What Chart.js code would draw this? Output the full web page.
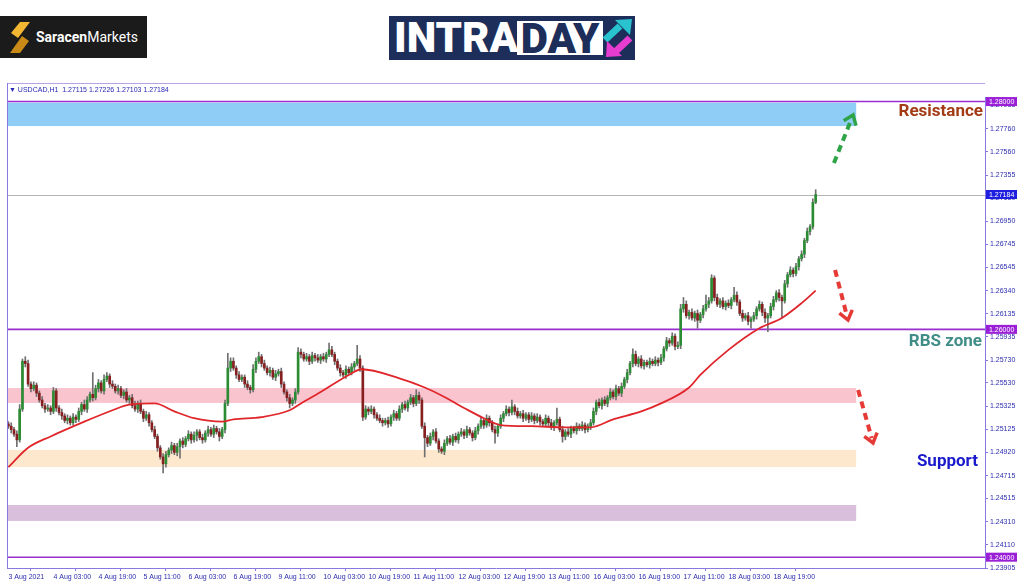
<!DOCTYPE html>
<html>
<head>
<meta charset="utf-8">
<title>USDCAD H1</title>
<script src="https://cdn.jsdelivr.net/npm/chart.js@4.4.1/dist/chart.umd.min.js"></script>
<style>
  html, body { margin: 0; padding: 0; background: #fff; }
  body { width: 1024px; height: 587px; position: relative; overflow: hidden; font-family: "Liberation Sans", Arial, sans-serif; }
  #saracen { position: absolute; left: 0; top: 16px; width: 147px; height: 42px; background: #1b1b1b; }
  #saracen svg { position: absolute; left: 8px; top: 6px; }
  #saracen .name { position: absolute; left: 36px; top: 12px; font: 14px/18px Roboto, sans-serif; color: #fff; white-space: nowrap; }
  #saracen b { font-weight: 700; }
  #intraday { position: absolute; left: 389px; top: 16px; width: 246px; height: 44px; background: #1c2e59; }
  #intraday .intra { position: absolute; left: 5px; top: 3px; font: 900 42px/38px Roboto, sans-serif; color: #fff; }
  #intraday .day { position: absolute; left: 128px; top: 5px; width: 86px; height: 34px; background: #fff; color: #1c2e59; font: 900 42px/36px Roboto, sans-serif; text-align: center; }
  #intraday svg { position: absolute; left: 212px; top: 0; }
  #hdr { position: absolute; left: 9px; top: 85px; font-size: 7px; line-height: 9px; color: #2929b5; white-space: nowrap; z-index: 2; }
  #wrap { position: absolute; left: 0; top: 83px; width: 1024px; height: 504px; }
</style>
</head>
<body>
<div id="saracen">
  <svg width="24" height="31" viewBox="0 0 24 31">
    <polygon points="12,0 22,0 10,16 3,11" fill="#f2b632"/>
    <polygon points="14,14 21,19 12,31 2,31" fill="#c98a17"/>
  </svg>
  <div class="name"><b>Saracen</b>Markets</div>
</div>
<div id="intraday">
  <div class="intra">INTRA</div>
  <div class="day">DAY</div>
  <svg width="34" height="44" viewBox="0 0 34 44">
    <line x1="4" y1="24" x2="19" y2="10" stroke="#29c3cf" stroke-width="7"/>
    <polygon points="31,3 14,4 29,19" fill="#29c3cf"/>
    <line x1="29" y1="22" x2="14" y2="36" stroke="#e63ccf" stroke-width="7"/>
    <polygon points="5,41 6,25 21,40" fill="#e63ccf"/>
  </svg>
</div>
<div id="hdr">&#9660; USDCAD,H1&nbsp; 1.27115 1.27226 1.27103 1.27184</div>
<div id="wrap"><canvas id="c" width="1024" height="504"></canvas></div>
<script>
// hourly closes, 3 Aug 11:00 .. 19 Aug
const closes = [
1.2515,1.2512,1.2508,1.2503,1.2530,1.2572,1.2570,1.2552,1.2548,1.2551,1.2544,1.2538,1.2533,1.2530,1.2531,1.2528,
1.2546,1.2531,1.2527,1.2524,1.2520,1.2522,1.2518,1.2523,1.2521,1.2528,1.2534,1.2530,1.2538,1.2543,1.2540,1.2548,
1.2553,1.2546,1.2556,1.2559,1.2552,1.2550,1.2546,1.2548,1.2542,1.2545,1.2538,1.2540,1.2533,1.2530,1.2535,1.2528,
1.2522,1.2525,1.2518,1.2512,1.2506,1.2496,1.2488,1.2482,1.2490,1.2494,1.2498,1.2492,1.2497,1.2502,1.2499,1.2504,
1.2508,1.2503,1.2507,1.2510,1.2505,1.2503,1.2509,1.2512,1.2508,1.2513,1.2510,1.2506,1.2512,1.2535,1.2566,1.2572,
1.2566,1.2560,1.2556,1.2558,1.2552,1.2549,1.2547,1.2565,1.2572,1.2576,1.2570,1.2566,1.2562,1.2564,1.2558,1.2561,
1.2563,1.2552,1.2545,1.2540,1.2535,1.2538,1.2545,1.2580,1.2578,1.2574,1.2576,1.2572,1.2577,1.2575,1.2573,1.2576,
1.2574,1.2578,1.2582,1.2578,1.2572,1.2566,1.2562,1.2560,1.2565,1.2562,1.2567,1.2570,1.2574,1.2566,1.2523,1.2530,
1.2528,1.2530,1.2525,1.2522,1.2520,1.2518,1.2520,1.2517,1.2523,1.2526,1.2522,1.2530,1.2534,1.2531,1.2536,1.2540,
1.2535,1.2542,1.2538,1.2515,1.2505,1.2500,1.2506,1.2510,1.2502,1.2495,1.2493,1.2500,1.2504,1.2501,1.2506,1.2503,
1.2508,1.2510,1.2507,1.2512,1.2509,1.2505,1.2511,1.2515,1.2520,1.2516,1.2522,1.2518,1.2512,1.2509,1.2515,1.2522,
1.2526,1.2530,1.2527,1.2532,1.2528,1.2524,1.2526,1.2522,1.2525,1.2521,1.2524,1.2520,1.2523,1.2519,1.2517,1.2522,
1.2518,1.2514,1.2518,1.2521,1.2512,1.2506,1.2510,1.2508,1.2513,1.2511,1.2515,1.2513,1.2516,1.2512,1.2515,1.2518,
1.2528,1.2536,1.2533,1.2538,1.2535,1.2540,1.2545,1.2541,1.2548,1.2544,1.2550,1.2556,1.2562,1.2570,1.2578,1.2570,
1.2574,1.2568,1.2571,1.2569,1.2572,1.2570,1.2573,1.2571,1.2575,1.2583,1.2590,1.2588,1.2594,1.2585,1.2586,1.2618,
1.2622,1.2612,1.2615,1.2610,1.2614,1.2608,1.2613,1.2618,1.2622,1.2625,1.2645,1.2628,1.2622,1.2625,1.2620,1.2623,
1.2621,1.2626,1.2630,1.2624,1.2614,1.2610,1.2612,1.2607,1.2609,1.2612,1.2618,1.2622,1.2615,1.2610,1.2612,1.2620,
1.2626,1.2632,1.2628,1.2625,1.2640,1.2648,1.2652,1.2649,1.2655,1.2662,1.2666,1.2678,1.2686,1.2690,1.27115,1.27184
];
const firstOpen = 1.2517;

// wicks beyond the body, in pips
const wickUp = [
2,3,2,3,4,2,4,3,2,3,2,2,3,2,3,2,
3,2,2,3,2,3,2,3,2,3,2,4,3,2,19,3,
3,2,4,3,2,3,2,3,2,2,3,2,3,4,2,3,
2,3,2,2,3,2,2,3,3,2,3,2,3,2,3,2,
3,2,3,2,2,3,2,3,2,3,2,3,2,3,13,3,
3,2,3,2,2,3,2,4,3,4,2,3,2,3,2,3,
2,3,2,2,3,2,3,4,3,2,3,2,3,2,3,2,
3,2,6,3,2,2,3,2,3,2,3,2,12,3,2,3,
2,3,2,2,3,2,2,3,2,3,2,3,2,3,2,3,
2,5,3,2,3,2,3,2,3,2,2,3,2,3,2,3,
2,3,2,3,2,2,3,2,3,2,3,2,2,3,2,3,
2,3,2,6,2,3,2,3,2,2,3,2,3,2,2,3,
2,3,2,10,2,3,2,3,2,2,3,2,3,2,2,3,
3,2,3,2,3,2,3,2,3,2,3,2,3,2,5,3,
2,3,2,2,3,2,3,2,3,2,3,2,3,2,3,4,
6,3,2,3,2,3,2,3,8,3,3,2,3,2,3,2,
3,2,7,3,2,3,2,3,2,3,2,3,2,3,2,3,
3,2,3,2,3,2,3,2,3,2,3,2,3,2,3,4.2
];
const wickDn = [
2,3,2,6,2,2,3,2,3,2,3,2,2,3,2,3,
2,3,2,3,2,3,2,2,3,2,3,2,3,2,3,2,
3,2,3,2,3,2,2,3,2,3,2,3,2,2,3,2,
3,2,3,2,2,3,2,8,3,2,3,2,3,10,3,2,
2,3,2,5,2,3,2,3,2,3,2,4,2,3,2,3,
2,3,2,2,3,2,3,2,3,2,3,2,2,3,2,3,
2,3,2,3,4,2,3,2,3,2,2,3,2,3,2,3,
2,3,2,2,3,2,3,2,3,2,2,3,2,3,3,2,
3,2,3,2,2,3,2,3,2,3,2,2,3,2,3,2,
3,2,3,2,17,3,2,3,2,3,2,3,2,2,3,2,
3,2,3,2,2,3,2,3,2,3,2,3,2,9,3,2,
3,2,3,2,3,2,2,3,2,3,2,3,2,3,2,2,
3,2,3,2,2,5,3,2,3,2,3,2,2,3,2,3,
2,3,2,3,2,3,2,2,3,2,3,2,3,2,3,2,
3,2,3,2,3,2,2,3,2,3,2,3,2,3,2,3,
3,2,3,2,3,7,2,3,2,3,2,3,2,3,2,3,
2,3,2,3,2,3,2,3,6,2,3,2,3,4,12,2,
3,2,3,15,2,3,2,3,2,3,2,3,2,3,2,1.2
];

// moving average, read at bar positions
const maIdx = [0,7,15,27,37,43,52,59,66,76,80,90,100,104,111,121,125.5,139,148,154,162,169,175,186,198,207,215,225,232,242,246,256,267,275,282,287];
const maVal = [1.2479,1.2496,1.2506,1.2519,1.2529,1.2534,1.2535,1.2528,1.2522,1.2519,1.2521,1.2523,1.2529,1.2535,1.2545,1.2560,1.2565,1.2557,1.2549,1.2542,1.2531,1.2522,1.2516,1.2515,1.2514,1.2514,1.2521,1.2528,1.2535,1.2549,1.2560,1.2582,1.2601,1.2610,1.2623,1.2634];

const xTickIdx = [0,16,32,48,64,80,96,112,128,144,160,176,192,208,224,240,256,272];
const xTickLabels = ['3 Aug 2021','4 Aug 03:00','4 Aug 19:00','5 Aug 11:00','6 Aug 03:00','6 Aug 19:00','9 Aug 11:00','10 Aug 03:00','10 Aug 19:00','11 Aug 11:00','12 Aug 03:00','12 Aug 19:00','13 Aug 11:00','16 Aug 03:00','16 Aug 19:00','17 Aug 11:00','18 Aug 03:00','18 Aug 19:00'];
const yTicks = [1.27965,1.27760,1.27560,1.27355,1.27150,1.26950,1.26745,1.26545,1.26340,1.26135,1.25935,1.25730,1.25530,1.25325,1.25125,1.24920,1.24715,1.24515,1.24310,1.24110,1.23905];

// zones and levels
const zoneLow = [1.27785, 1.25354, 1.24792, 1.24318];
const zoneHigh = [1.27990, 1.25485, 1.24941, 1.24458];
const zoneEnd = 301.4;
const levels = [1.28, 1.26, 1.24];
const lastPrice = 1.27184;
const noteText = ['Resistance', 'RBS zone', 'Support'];
const notePrice = [1.27908, 1.25889, 1.24836];
const arrowFrom = [[293.5, 1.27461], [293.9, 1.26521], [302.1, 1.25468]];
const arrowTo = [[300.3, 1.27882], [298.5, 1.26082], [307.4, 1.25003]];

const pip = 0.0001;
const opens = closes.map((c, i) => i === 0 ? firstOpen : closes[i - 1]);
const bodies = closes.map((c, i) => ({ x: i, y: [opens[i], c] }));
const wicks = closes.map((c, i) => ({
    x: i,
    y: [Math.min(opens[i], c) - wickDn[i] * pip, Math.max(opens[i], c) + wickUp[i] * pip]
}));
const bodyColors = closes.map((c, i) => c >= opens[i] ? '#2c8c33' : '#862020');

const zoneColors = ['#8fcdf6', '#fac4cf', '#fde8cd', '#d9bfdc'];
const noteColors = ['#a33c16', '#3f8d86', '#1a1acb'];
const arrowColors = ['#2ea447', '#e53a35', '#e53a35'];
const frameColor = '#8878e0';
const axisText = '#2d2db0';

function drawArrow(ctx, x0, y0, x1, y1, color) {
    const ang = Math.atan2(y1 - y0, x1 - x0);
    ctx.strokeStyle = color;
    ctx.lineWidth = 4;
    ctx.setLineDash([7, 5]);
    ctx.beginPath();
    ctx.moveTo(x0, y0);
    ctx.lineTo(x1 - 5 * Math.cos(ang), y1 - 5 * Math.sin(ang));
    ctx.stroke();
    ctx.setLineDash([]);
    ctx.lineWidth = 3.5;
    ctx.beginPath();
    ctx.moveTo(x1 - 11 * Math.cos(ang - 0.65), y1 - 11 * Math.sin(ang - 0.65));
    ctx.lineTo(x1, y1);
    ctx.lineTo(x1 - 11 * Math.cos(ang + 0.65), y1 - 11 * Math.sin(ang + 0.65));
    ctx.stroke();
}

function priceBox(ctx, a, y, value, color) {
    const py = y.getPixelForValue(value);
    ctx.fillStyle = color;
    ctx.fillRect(a.right + 1, py - 4.5, 31, 9);
    ctx.fillStyle = '#fff';
    ctx.font = '7px "Liberation Sans"';
    ctx.textAlign = 'left';
    ctx.textBaseline = 'middle';
    ctx.fillText(value.toFixed(5), a.right + 4, py + 0.5);
}

const overlay = {
    id: 'overlay',
    beforeDatasetsDraw(chart) {
        const { ctx, chartArea: a, scales: { x, y } } = chart;
        ctx.save();
        const xe = x.getPixelForValue(zoneEnd);
        zoneLow.forEach((lo, k) => {
            const y1 = y.getPixelForValue(zoneHigh[k]), y2 = y.getPixelForValue(lo);
            ctx.fillStyle = zoneColors[k];
            ctx.fillRect(a.left + 1, y1, xe - a.left - 1, y2 - y1);
        });
        ctx.strokeStyle = '#b5b5b5';
        ctx.lineWidth = 1;
        let py = Math.round(y.getPixelForValue(lastPrice)) + 0.5;
        ctx.beginPath(); ctx.moveTo(a.left, py); ctx.lineTo(a.right, py); ctx.stroke();
        ctx.strokeStyle = '#9a2fd0';
        ctx.lineWidth = 1.6;
        levels.forEach(v => {
            py = y.getPixelForValue(v);
            ctx.beginPath(); ctx.moveTo(a.left, py); ctx.lineTo(a.right, py); ctx.stroke();
        });
        ctx.restore();
    },
    afterDatasetsDraw(chart) {
        const { ctx, chartArea: a, scales: { x, y } } = chart;
        ctx.save();
        arrowFrom.forEach((p, k) => {
            drawArrow(ctx, x.getPixelForValue(p[0]), y.getPixelForValue(p[1]),
                x.getPixelForValue(arrowTo[k][0]), y.getPixelForValue(arrowTo[k][1]), arrowColors[k]);
        });
        ctx.font = 'bold 17px Roboto';
        ctx.textAlign = 'right';
        ctx.textBaseline = 'middle';
        const rx = [a.right - 2, a.right - 3, a.right - 7];
        noteText.forEach((t, k) => {
            ctx.fillStyle = noteColors[k];
            ctx.fillText(t, rx[k], y.getPixelForValue(notePrice[k]));
        });
        ctx.restore();
    },
    afterDraw(chart) {
        const { ctx, chartArea: a, scales: { y } } = chart;
        ctx.save();
        ctx.strokeStyle = '#b9a3e8';
        ctx.lineWidth = 1;
        ctx.beginPath(); ctx.moveTo(a.left, 0.5); ctx.lineTo(a.right, 0.5); ctx.stroke();
        ctx.strokeStyle = frameColor;
        ctx.beginPath(); ctx.moveTo(a.left + 0.5, 0); ctx.lineTo(a.left + 0.5, a.bottom); ctx.stroke();
        levels.forEach(v => priceBox(ctx, a, y, v, '#9a1fd6'));
        priceBox(ctx, a, y, lastPrice, '#1f1fe0');
        ctx.restore();
    }
};

new Chart(document.getElementById('c'), {
    type: 'bar',
    data: {
        datasets: [{
            type: 'line',
            data: maIdx.map((v, k) => ({ x: v, y: maVal[k] })),
            borderColor: '#e0262b',
            borderWidth: 1.8,
            pointRadius: 0,
            cubicInterpolationMode: 'monotone',
            order: 0
        }, {
            data: bodies,
            backgroundColor: bodyColors,
            barThickness: 2,
            minBarLength: 1,
            grouped: false,
            order: 1
        }, {
            data: wicks,
            backgroundColor: '#707070',
            barThickness: 1,
            grouped: false,
            order: 2
        }]
    },
    options: {
        responsive: false,
        animation: false,
        devicePixelRatio: 1,
        layout: { padding: { left: 7, top: 14, right: 0, bottom: 0 } },
        plugins: { legend: { display: false }, tooltip: { enabled: false } },
        scales: {
            x: {
                type: 'linear',
                min: -0.5,
                max: 347.2,
                offset: false,
                afterBuildTicks: s => { s.ticks = xTickIdx.map(v => ({ value: v })); },
                afterFit: s => { s.height = 19; },
                grid: { drawOnChartArea: false, tickLength: 3, color: frameColor },
                border: { color: frameColor },
                ticks: {
                    autoSkip: false,
                    maxRotation: 0,
                    minRotation: 0,
                    align: 'start',
                    padding: 2,
                    color: axisText,
                    font: { family: 'Liberation Sans', size: 7 },
                    callback: (v, i) => xTickLabels[i]
                }
            },
            y: {
                type: 'linear',
                position: 'right',
                min: 1.23905,
                max: 1.28040,
                beginAtZero: false,
                afterBuildTicks: s => { s.ticks = yTicks.map(v => ({ value: v })); },
                afterFit: s => { s.width = 39; },
                grid: { drawOnChartArea: false, tickLength: 3, color: frameColor },
                border: { color: frameColor },
                ticks: {
                    padding: 2,
                    color: axisText,
                    font: { family: 'Liberation Sans', size: 7 },
                    callback: v => v.toFixed(5)
                }
            }
        }
    },
    plugins: [overlay]
});
</script>
</body>
</html>
